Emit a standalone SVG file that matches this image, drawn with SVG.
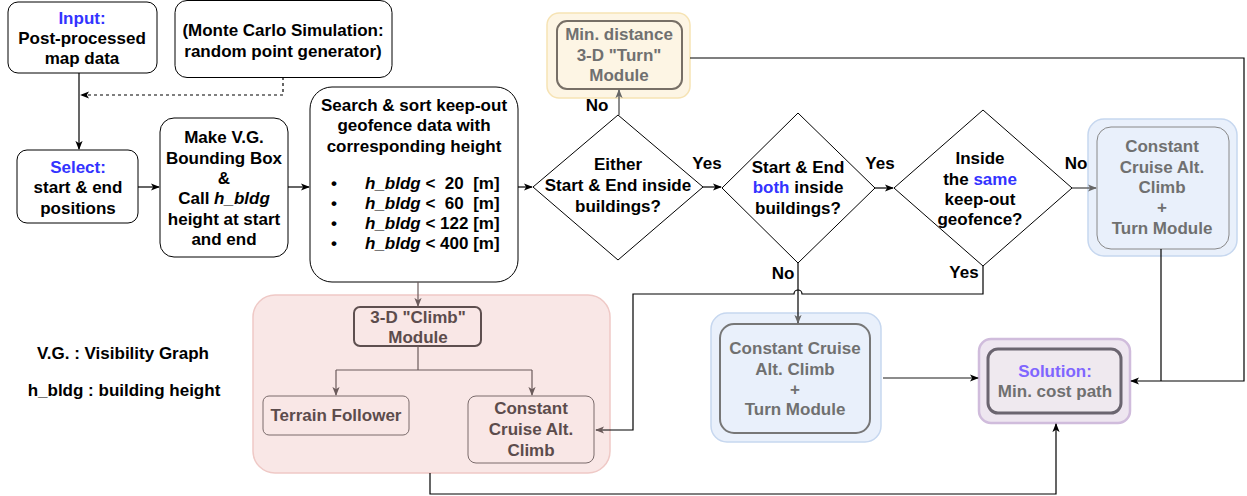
<svg xmlns="http://www.w3.org/2000/svg" width="1247" height="496" viewBox="0 0 1247 496">
<defs>
<style>
.t{font-family:"Liberation Sans",Arial,sans-serif;font-size:17px;font-weight:bold;text-anchor:middle;fill:#000}
.b{fill:#3333ff}
.g{fill:#707070}
.r{fill:#5c4c4c}
.box{fill:#fff;stroke:#000;stroke-width:1}
.c{fill:none;stroke:#000;stroke-width:1.2}
.cg{fill:none;stroke:#666;stroke-width:1.5}
.cr{fill:none;stroke:#6b5b5b;stroke-width:1.2}
</style>
<marker id="ab" viewBox="0 0 10 8" refX="9" refY="4" markerWidth="9" markerHeight="8" markerUnits="userSpaceOnUse" orient="auto"><path d="M0,0 L10,4 L0,8 L2.5,4 z" fill="#000"/></marker>
<marker id="ag" viewBox="0 0 10 8" refX="9" refY="4" markerWidth="9" markerHeight="8" markerUnits="userSpaceOnUse" orient="auto"><path d="M0,0 L10,4 L0,8 L2.5,4 z" fill="#666"/></marker>
<marker id="ar" viewBox="0 0 10 8" refX="9" refY="4" markerWidth="9" markerHeight="8" markerUnits="userSpaceOnUse" orient="auto"><path d="M0,0 L10,4 L0,8 L2.5,4 z" fill="#6b5b5b"/></marker>
</defs>

<g id="red-group">
<rect x="253" y="295" width="357" height="178" rx="22" fill="#f9e7e6" stroke="#efc9c6" stroke-width="1.5"/>
</g>

<g id="input">
<rect class="box" x="8" y="2" width="149" height="71" rx="10"/>
<text class="t" x="82" y="24"><tspan class="b">Input:</tspan></text>
<text class="t" x="82" y="44">Post-processed</text>
<text class="t" x="82" y="64">map data</text>
</g>

<g id="monte-carlo">
<rect class="box" x="175" y="0.5" width="217" height="77" rx="12"/>
<text class="t" x="283" y="36">(Monte Carlo Simulation:</text>
<text class="t" x="283" y="57">random point generator)</text>
</g>

<g id="select">
<rect class="box" x="17" y="150" width="121" height="73" rx="10"/>
<text class="t b" x="78" y="173">Select:</text>
<text class="t" x="78" y="193">start &amp; end</text>
<text class="t" x="78" y="214">positions</text>
</g>

<g id="make-vg">
<rect class="box" x="160" y="118" width="128" height="139" rx="14"/>
<text class="t" x="224" y="143">Make V.G.</text>
<text class="t" x="224" y="164">Bounding Box</text>
<text class="t" x="224" y="184">&amp;</text>
<text class="t" x="224" y="204">Call <tspan font-style="italic">h_bldg</tspan></text>
<text class="t" x="224" y="225">height at start</text>
<text class="t" x="224" y="245">and end</text>
</g>

<g id="search">
<rect class="box" x="310" y="87" width="208" height="195" rx="22"/>
<text class="t" x="414" y="111">Search &amp; sort keep-out</text>
<text class="t" x="414" y="131">geofence data with</text>
<text class="t" x="414" y="152">corresponding height</text>
<text class="t" x="331" y="189" style="text-anchor:start">•</text>
<text class="t" x="331" y="209" style="text-anchor:start">•</text>
<text class="t" x="331" y="229" style="text-anchor:start">•</text>
<text class="t" x="331" y="249" style="text-anchor:start">•</text>
<text class="t" x="365" y="189" style="text-anchor:start;white-space:pre" xml:space="preserve"><tspan font-style="italic">h_bldg</tspan> &lt;  20  [m]</text>
<text class="t" x="365" y="209" style="text-anchor:start;white-space:pre" xml:space="preserve"><tspan font-style="italic">h_bldg</tspan> &lt;  60  [m]</text>
<text class="t" x="365" y="229" style="text-anchor:start;white-space:pre" xml:space="preserve"><tspan font-style="italic">h_bldg</tspan> &lt; 122 [m]</text>
<text class="t" x="365" y="249" style="text-anchor:start;white-space:pre" xml:space="preserve"><tspan font-style="italic">h_bldg</tspan> &lt; 400 [m]</text>
</g>

<g id="decision-either">
<polygon points="618,115 703,187 618,260 533,187" fill="#fff" stroke="#000" stroke-width="1"/>
<text class="t" x="618" y="170">Either</text>
<text class="t" x="618" y="191">Start &amp; End inside</text>
<text class="t" x="618" y="212">buildings?</text>
</g>

<g id="decision-both">
<polygon points="798,113 875,188 798,263 722,188" fill="#fff" stroke="#000" stroke-width="1"/>
<text class="t" x="798" y="173">Start &amp; End</text>
<text class="t" x="798" y="193"><tspan class="b">both</tspan> inside</text>
<text class="t" x="798" y="214">buildings?</text>
</g>

<g id="decision-same">
<polygon points="983,110 1072,188 983,266 894,188" fill="#fff" stroke="#000" stroke-width="1"/>
<text class="t" x="980" y="164">Inside</text>
<text class="t" x="980" y="185">the <tspan class="b">same</tspan></text>
<text class="t" x="980" y="205">keep-out</text>
<text class="t" x="980" y="225">geofence?</text>
</g>

<g id="min-distance-turn">
<rect x="547" y="13" width="143" height="85" rx="12" fill="#fdf5e4" stroke="#f6e3b4" stroke-width="1.5"/>
<rect x="557" y="21" width="125" height="68" rx="10" fill="#fdf5e4" stroke="#776f66" stroke-width="2"/>
<text class="t g" x="619" y="40">Min. distance</text>
<text class="t g" x="619" y="61">3-D "Turn"</text>
<text class="t g" x="619" y="81">Module</text>
</g>

<g id="const-cruise-right">
<rect x="1088" y="119" width="149" height="137" rx="16" fill="#e9f0fb" stroke="#c6d7ef" stroke-width="1.5"/>
<rect x="1097" y="127" width="132" height="122" rx="14" fill="#e9f0fb" stroke="#888" stroke-width="1"/>
<text class="t g" x="1162" y="152">Constant</text>
<text class="t g" x="1162" y="173">Cruise Alt.</text>
<text class="t g" x="1162" y="193">Climb</text>
<text class="t g" x="1162" y="213">+</text>
<text class="t g" x="1162" y="234">Turn Module</text>
</g>

<g id="climb-module">
<rect x="354" y="307" width="127" height="39" rx="6" fill="#f9e7e6" stroke="#5e4f4f" stroke-width="2"/>
<text class="t r" x="418" y="323">3-D "Climb"</text>
<text class="t r" x="418" y="343">Module</text>
</g>

<g id="terrain-follower">
<rect x="263" y="396" width="146" height="39" rx="6" fill="#f9e7e6" stroke="#7a6b6b" stroke-width="1"/>
<text class="t r" x="336" y="421">Terrain Follower</text>
</g>

<g id="const-cruise-red">
<rect x="468" y="396" width="126" height="67" rx="8" fill="#f9e7e6" stroke="#7a6b6b" stroke-width="1"/>
<text class="t r" x="531" y="414">Constant</text>
<text class="t r" x="531" y="435">Cruise Alt.</text>
<text class="t r" x="531" y="456">Climb</text>
</g>

<g id="const-cruise-mid">
<rect x="711" y="313" width="170" height="129" rx="16" fill="#e9f0fb" stroke="#c6d7ef" stroke-width="1.5"/>
<rect x="720" y="324" width="150" height="109" rx="14" fill="#e9f0fb" stroke="#777" stroke-width="2"/>
<text class="t g" x="795" y="354">Constant Cruise</text>
<text class="t g" x="795" y="375">Alt. Climb</text>
<text class="t g" x="795" y="395">+</text>
<text class="t g" x="795" y="415">Turn Module</text>
</g>

<g id="solution">
<rect x="979" y="339" width="151" height="84" rx="12" fill="#eee6f0" stroke="#d0bcdc" stroke-width="2.5"/>
<rect x="988" y="349" width="133" height="64" rx="10" fill="#efe9ef" stroke="#6b6570" stroke-width="3"/>
<text class="t" x="1055" y="377" style="fill:#7f66ff">Solution:</text>
<text class="t g" x="1055" y="397">Min. cost path</text>
</g>

<g id="connectors">
<path class="c" d="M79,73 V149" marker-end="url(#ab)"/>
<path class="c" d="M283,77 V95 H81" stroke-dasharray="3,3" marker-end="url(#ab)"/>
<path class="c" d="M138,187 H159" marker-end="url(#ab)"/>
<path class="c" d="M288,187 H309" marker-end="url(#ab)"/>
<path class="c" d="M518,187 H532" marker-end="url(#ab)"/>
<path class="cg" d="M619,115 V90" marker-end="url(#ag)"/>
<path class="c" d="M703,187 H721" marker-end="url(#ab)"/>
<path class="c" d="M875,188 H893" marker-end="url(#ab)"/>
<path class="cg" d="M1072,188 H1096" marker-end="url(#ag)"/>
<path class="c" d="M690,58 H1244 V381 H1131" marker-end="url(#ab)"/>
<path class="c" d="M1161,249 V381"/>
<path class="c" d="M798,263 V323" marker-end="url(#ag)"/>
<path class="c" d="M983,266 V294 H802 A4,4 0 0 0 794,294 H633 V430 H596" marker-end="url(#ar)"/>
<path class="cr" d="M418,282 V306" marker-end="url(#ar)"/>
<path class="cr" d="M418,346 V370 M336,370 H532"/>
<path class="cr" d="M336,370 V395" marker-end="url(#ar)"/>
<path class="cr" d="M532,370 V395" marker-end="url(#ar)"/>
<path class="c" d="M430,473 V494 H1056 V424" marker-end="url(#ab)"/>
<path class="cg" d="M883,378 H978" marker-end="url(#ab)"/>
</g>

<g id="labels">
<text class="t" x="597" y="111">No</text>
<text class="t" x="707" y="169">Yes</text>
<text class="t" x="880" y="169">Yes</text>
<text class="t" x="1076" y="169">No</text>
<text class="t" x="783" y="279">No</text>
<text class="t" x="964" y="278">Yes</text>
</g>

<g id="legend">
<text class="t" x="123" y="359">V.G. : Visibility Graph</text>
<text class="t" x="124" y="396">h_bldg : building height</text>
</g>
</svg>
